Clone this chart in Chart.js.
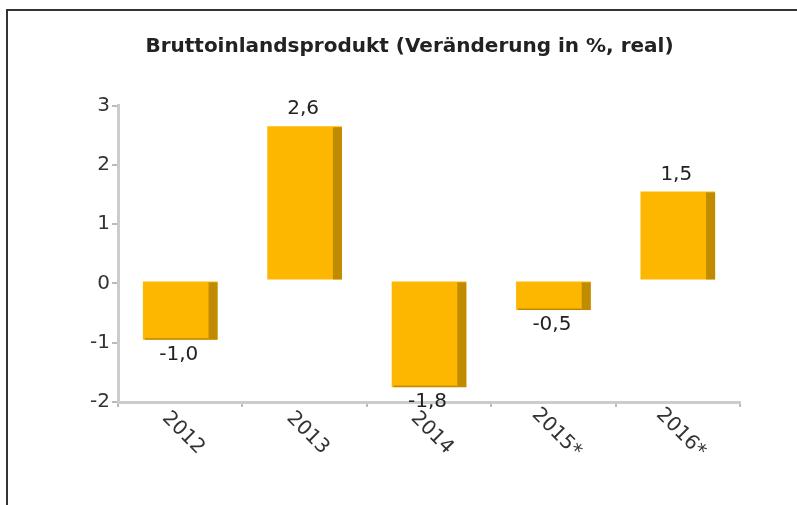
<!DOCTYPE html>
<html>
<head>
<meta charset="utf-8">
<script src="https://cdn.jsdelivr.net/npm/chart.js@4"></script>
<style>
  html, body { margin: 0; padding: 0; background: #fff; overflow: hidden; }
  #wrap { position: relative; width: 797px; height: 505px; }
  #frame { position: absolute; left: 6px; top: 9px; width: 900px; height: 600px;
           border-left: 2px solid #333; border-top: 2px solid #333; }
  canvas { position: absolute; left: 0; top: 0; }
</style>
</head>
<body>
<div id="wrap">
  <div id="frame"></div>
  <canvas id="gdpChart" width="797" height="505"></canvas>
</div>
<script>
const years = ['2012', '2013', '2014', '2015*', '2016*'];
const gdpChange = [-1.0, 2.6, -1.8, -0.5, 1.5];
const yTicks = [-2, -1, 0, 1, 2, 3];

const front = '#fdb700';
const side = '#c08b00';
const fontFamily = '"DejaVu Sans", sans-serif';

// Balken leicht angehoben zeichnen (Tiefenwirkung wie im Original)
const lift = {
    id: 'lift',
    beforeDatasetsDraw(chart) {
        chart.ctx.save();
        chart.ctx.translate(0, -3);
    },
    afterDatasetsDraw(chart) {
        chart.ctx.restore();
    }
};

// 3D-Effekt: dunkle Seitenfläche rechts, bei negativen Balken dunkle Unterkante
const bar3d = {
    id: 'bar3d',
    afterDatasetsDraw(chart) {
        const ctx = chart.ctx;
        chart.getDatasetMeta(0).data.forEach((bar, i) => {
            const right = bar.x + bar.width / 2;
            const top = Math.min(bar.y, bar.base);
            const bottom = Math.max(bar.y, bar.base);
            ctx.save();
            ctx.fillStyle = side;
            ctx.fillRect(right - 9, top + 1, 9, bottom - top - 1);
            if (gdpChange[i] < 0) {
                ctx.fillRect(bar.x - bar.width / 2 + 2, bottom - 1.5, bar.width - 11, 1.5);
            }
            ctx.restore();
        });
    }
};

// Werte an den Balken (deutsche Schreibweise)
const valueLabels = {
    id: 'valueLabels',
    afterDatasetsDraw(chart) {
        const ctx = chart.ctx;
        ctx.save();
        ctx.font = '20px ' + fontFamily;
        ctx.fillStyle = '#222';
        ctx.textAlign = 'center';
        ctx.textBaseline = 'middle';
        chart.getDatasetMeta(0).data.forEach((bar, i) => {
            const v = gdpChange[i];
            const txt = v.toFixed(1).replace('.', ',');
            const y = v >= 0 ? bar.y - 17 : bar.y + 15;
            ctx.fillText(txt, bar.x - 1.5, y);
        });
        ctx.restore();
    }
};

// Achsenbeschriftung x, nach rechts unten gedreht
const slantedLabels = {
    id: 'slantedLabels',
    afterDraw(chart) {
        const ctx = chart.ctx;
        const xs = chart.scales.x;
        ctx.save();
        ctx.font = '20px ' + fontFamily;
        ctx.fillStyle = '#333';
        ctx.textAlign = 'center';
        ctx.textBaseline = 'middle';
        years.forEach((label, i) => {
            ctx.save();
            ctx.translate(xs.getPixelForValue(i) + 3, xs.top + 31);
            ctx.rotate(45 * Math.PI / 180);
            ctx.fillText(label, 0, 0);
            ctx.restore();
        });
        ctx.restore();
    }
};

new Chart(document.getElementById('gdpChart').getContext('2d'), {
    type: 'bar',
    data: {
        labels: years,
        datasets: [{
            data: gdpChange,
            backgroundColor: front,
            borderWidth: 0,
            barPercentage: 0.6,
            categoryPercentage: 1
        }]
    },
    options: {
        responsive: false,
        animation: false,
        layout: { padding: { left: 79, right: 57, top: 0, bottom: 0 } },
        plugins: {
            legend: { display: false },
            tooltip: { enabled: false },
            title: {
                display: true,
                text: 'Bruttoinlandsprodukt (Veränderung in %, real)',
                color: '#222',
                font: { family: fontFamily, size: 20, weight: 'bold' },
                padding: { top: 35, bottom: 46.5 }
            }
        },
        scales: {
            x: {
                ticks: { display: false },
                grid: { display: true, drawOnChartArea: false, offset: true, color: '#bbb', tickLength: 5, lineWidth: 2 },
                border: { display: true, color: '#ccc', width: 3 },
                afterFit(scale) { scale.height = 103; }
            },
            y: {
                min: -2,
                max: 3,
                afterBuildTicks(scale) { scale.ticks = yTicks.map(v => ({ value: v })); },
                ticks: { color: '#333', font: { family: fontFamily, size: 20 }, padding: 2 },
                grid: { display: true, drawOnChartArea: false, color: '#bbb', tickLength: 6, lineWidth: 2 },
                border: { display: true, color: '#ccc', width: 3 },
                afterFit(scale) { scale.width = 39; }
            }
        }
    },
    plugins: [bar3d, valueLabels, lift, slantedLabels]
});
</script>
</body>
</html>
